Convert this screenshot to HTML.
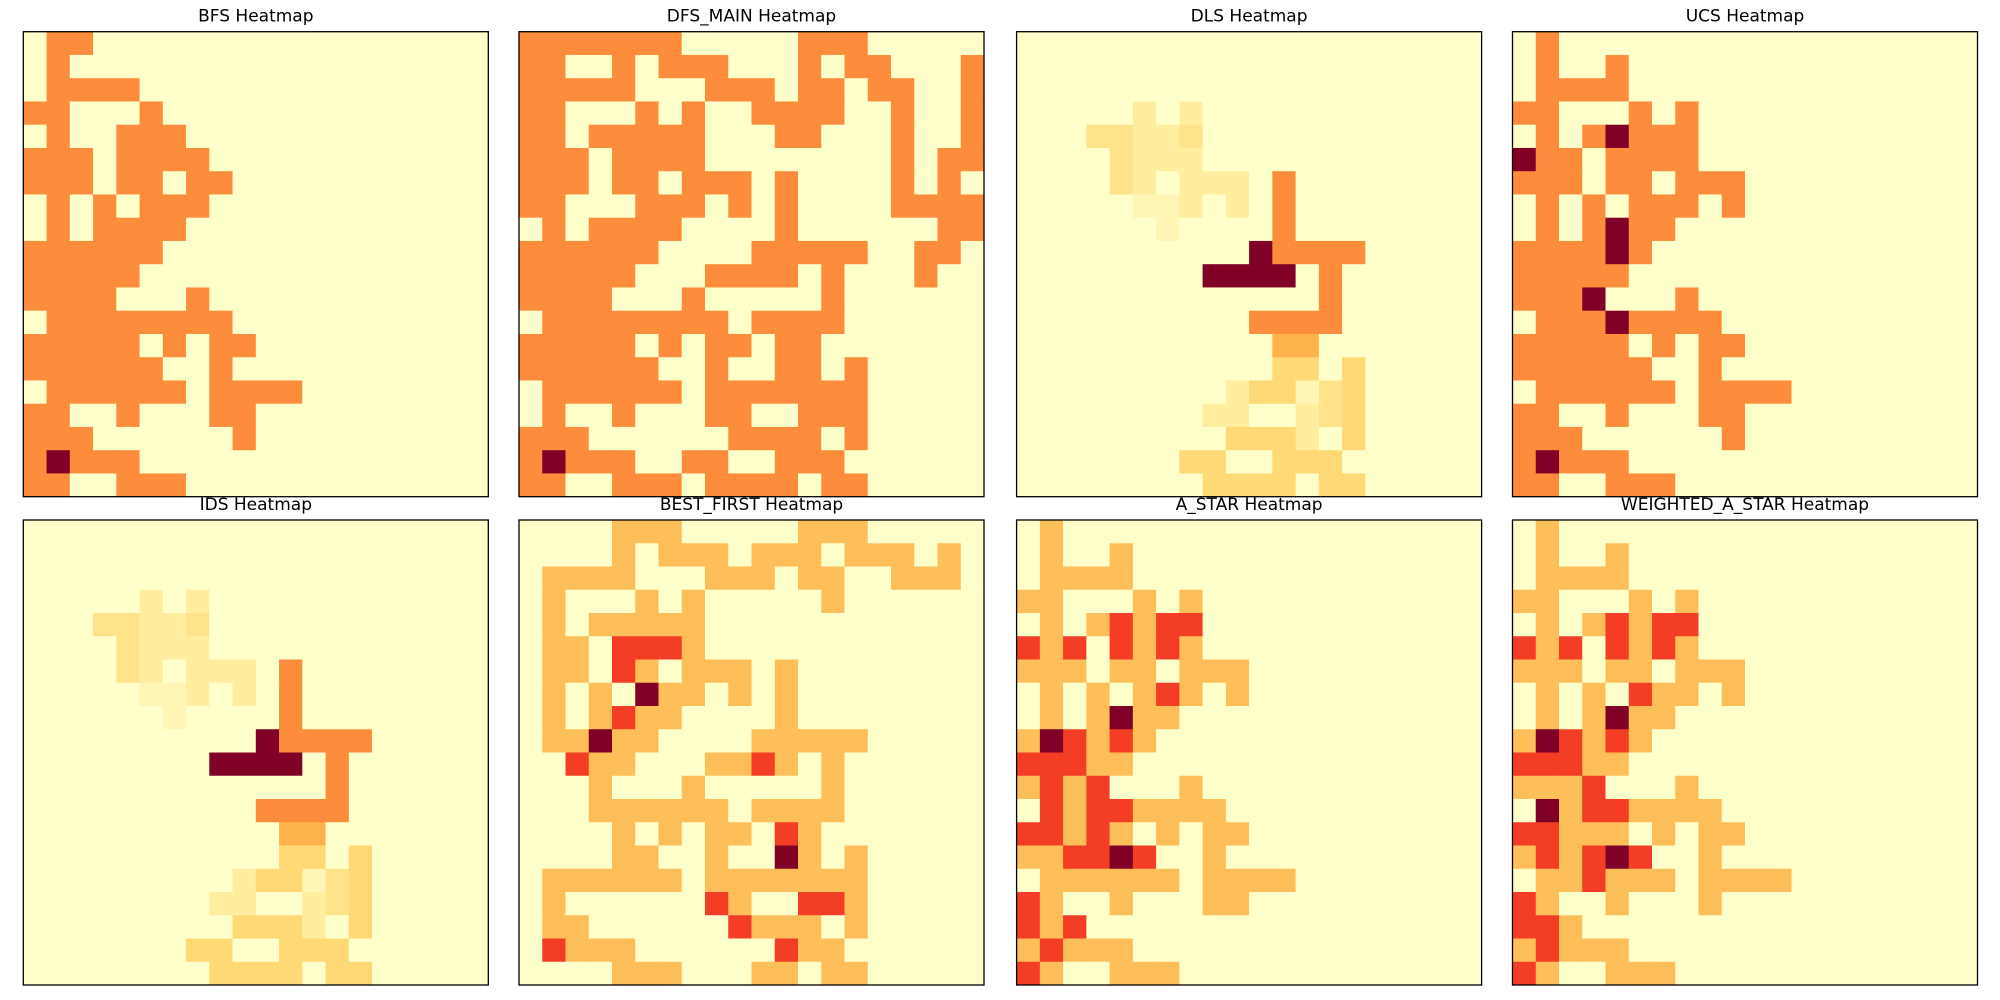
<!DOCTYPE html>
<html>
<head>
<meta charset="utf-8">
<style>
  html,body{margin:0;padding:0;background:#fff;}
  svg{display:block;}
</style>
</head>
<body>
<svg id="fig" width="2000" height="1000" viewBox="0 0 2000 1000" xmlns="http://www.w3.org/2000/svg">
  <rect x="0" y="0" width="2000" height="1000" fill="#ffffff"/>
</svg>
<script>
// Data: each row string = 20 cells, digits base-36 (0..g)
const titles = ["BFS Heatmap","DFS_MAIN Heatmap","DLS Heatmap","UCS Heatmap","IDS Heatmap","BEST_FIRST Heatmap","A_STAR Heatmap","WEIGHTED_A_STAR Heatmap"];
const bfsGrid = [
"01100000000000000000","01000000000000000000","01111000000000000000","11000100000000000000",
"01001110000000000000","11101111000000000000","11101101100000000000","01010111000000000000",
"01011110000000000000","11111100000000000000","11111000000000000000","11110001000000000000",
"01111111100000000000","11111010110000000000","11111100100000000000","01111110111100000000",
"11001000110000000000","11100000010000000000","12111000000000000000","11001110000000000000"];
const dfsGrid = [
"11111110000011100000","11001011100010110001","11111000111011011001","11000101001111001001",
"11011111000110001001","11101111000000001011","11101101110100001010","11000111010100001111",
"01011110000100000011","11111100001111100110","11111000111101000100","11110001000001000000",
"01111111101111000000","11111010110110000000","11111100100110100000","01111110111111100000",
"01001000110011100000","11100000011110100000","12111001100111000000","11001110111101100000"];
const dlsGrid = [
"00000000000000000000","00000000000000000000","00000000000000000000","00000202000000000000",
"00033223000000000000","00003222000000000000","00003202220800000000","00000112020800000000",
"00000010000800000000","0000000000g888800000","00000000gggg08000000","00000000000008000000",
"00000000008888000000","00000000000660000000","00000000000440400000","00000000024413400000",
"00000000220023400000","00000000044420400000","00000004400444000000","00000000444404400000"];
const ucsGrid = [
"01000000000000000000","01001000000000000000","01111000000000000000","11000101000000000000",
"01012111000000000000","21101111000000000000","11101101110000000000","01010111010000000000",
"01012110000000000000","11112100000000000000","11111000000000000000","11120001000000000000",
"01112111100000000000","11111010110000000000","11111100100000000000","01111110111100000000",
"11001000110000000000","11100000010000000000","12111000000000000000","11001110000000000000"];
const idsGrid = [
"00000000000000000000","00000000000000000000","00000000000000000000","00000202000000000000",
"00033223000000000000","00003222000000000000","00003202220800000000","00000112020800000000",
"00000010000800000000","0000000000g888800000","00000000gggg08000000","00000000000008000000",
"00000000008888000000","00000000000660000000","00000000000440400000","00000000024413400000",
"00000000220023400000","00000000044420400000","00000004400444000000","00000000444404400000"];
const bestFirstGrid = [
"00001110000011100000","00001011101110111010","01111000111011001110","01000101000001000000",
"01011111000000000000","01102221000000000000","01102101110100000000","01010311010100000000",
"01012110000100000000","01131100001111100000","00211000112101000000","00010001000001000000",
"00011111101111000000","00001010110210000000","00001100100310100000","01111110111111100000",
"01000000210022100000","01100000021110100000","02111000000211000000","00001110001101100000"];
const aStarGrid = [
"01000000000000000000","01001000000000000000","01111000000000000000","11000101000000000000",
"01012122000000000000","21202121000000000000","11101101110000000000","01010121010000000000",
"01013110000000000000","13212100000000000000","22211000000000000000","12120001000000000000",
"02122111100000000000","22121010110000000000","11223200100000000000","01111110111100000000",
"21001000110000000000","21200000000000000000","12111000000000000000","21001110000000000000"];
const weightedAStarGrid = [
"01000000000000000000","01001000000000000000","01111000000000000000","11000101000000000000",
"01012122000000000000","21202121000000000000","11101101110000000000","01010211010000000000",
"01013110000000000000","13212100000000000000","22211000000000000000","11120001000000000000",
"03122111100000000000","22111010110000000000","12123200100000000000","01121110111100000000",
"21001000100000000000","22100000000000000000","12111000000000000000","21001110000000000000"];
const grids = [bfsGrid, dfsGrid, dlsGrid, ucsGrid, idsGrid, bestFirstGrid, aStarGrid, weightedAStarGrid];

// Layout
const panelX = [23.3, 519.0, 1016.6, 1512.5];
const panelY = [31.7, 520.0];
const PW = 465, PH = 465;

// YlOrRd colormap
const stops = ["#ffffcc","#ffeda0","#fed976","#feb24c","#fd8d3c","#fc4e2a","#e31a1c","#bd0026","#800026"];
function hex2rgb(h){return [parseInt(h.slice(1,3),16),parseInt(h.slice(3,5),16),parseInt(h.slice(5,7),16)];}
const stopRGB = stops.map(hex2rgb);
function cmap(t){
  t = Math.max(0, Math.min(1, t));
  const p = t * (stops.length - 1);
  const i = Math.min(Math.floor(p), stops.length - 2);
  const f = p - i;
  const a = stopRGB[i], b = stopRGB[i+1];
  const c = a.map((v,k)=>Math.round(v + (b[k]-v)*f));
  return "rgb(" + c.join(",") + ")";
}

const NS = "http://www.w3.org/2000/svg";
const svg = document.getElementById("fig");

grids.forEach((grid, gi) => {
  const vals = grid.map(r => r.split("").map(ch => parseInt(ch, 36)));
  const rows = vals.length, cols = vals[0].length;
  let vmax = 0; vals.forEach(r => r.forEach(v => { if (v > vmax) vmax = v; }));
  const x0 = panelX[gi % 4], y0 = panelY[Math.floor(gi / 4)];
  const cw = PW / cols, ch = PH / rows;
  const xScale = c => x0 + c * cw;
  const yScale = r => y0 + r * ch;

  const g = document.createElementNS(NS, "g");
  
  
  svg.appendChild(g);

  for (let r = 0; r < rows; r++) {
    for (let c = 0; c < cols; c++) {
      const rect = document.createElementNS(NS, "rect");
      rect.setAttribute("x", xScale(c).toFixed(2));
      rect.setAttribute("y", yScale(r).toFixed(2));
      rect.setAttribute("width", (cw + 0.4).toFixed(2));
      rect.setAttribute("height", (ch + 0.4).toFixed(2));
      rect.setAttribute("fill", cmap(vmax ? vals[r][c] / vmax : 0));
      
      
      g.appendChild(rect);
    }
  }
  const frame = document.createElementNS(NS, "rect");
  frame.setAttribute("x", x0); frame.setAttribute("y", y0);
  frame.setAttribute("width", PW); frame.setAttribute("height", PH);
  frame.setAttribute("fill", "none"); frame.setAttribute("stroke", "#000");
  frame.setAttribute("stroke-width", "1.3");
  
  
  g.appendChild(frame);

  const t = document.createElementNS(NS, "text");
  t.setAttribute("x", x0 + PW / 2);
  t.setAttribute("y", y0 - 10);
  t.setAttribute("text-anchor", "middle");
  t.setAttribute("font-family", "DejaVu Sans, Liberation Sans, sans-serif");
  t.setAttribute("font-size", "17");
  t.setAttribute("fill", "#000");
  t.textContent = titles[gi];
  
  
  g.appendChild(t);
});
</script>
</body>
</html>
